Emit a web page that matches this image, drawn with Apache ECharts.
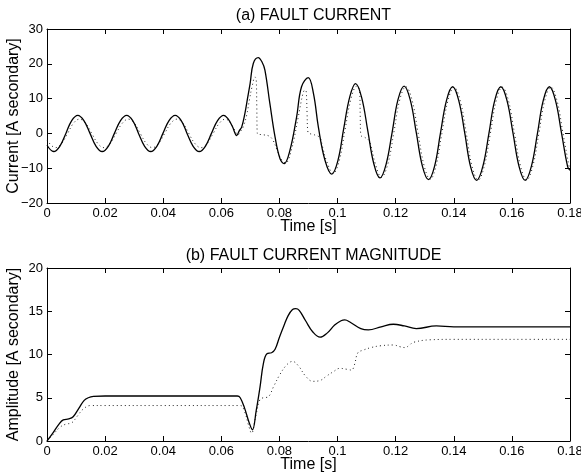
<!DOCTYPE html>
<html>
<head>
<meta charset="utf-8">
<script src="https://cdn.jsdelivr.net/npm/echarts@6/dist/echarts.min.js"></script>
<style>
html,body{margin:0;padding:0;background:#fff;}
#chart{width:581px;height:476px;}
</style>
</head>
<body>
<div id="chart"></div>
<script>
// ---- Data ----
// x tick labels (s)
const timeTicks = [0, 0.02, 0.04, 0.06, 0.08, 0.1, 0.12, 0.14, 0.16, 0.18];
const currentTicks = [-20, -10, 0, 10, 20, 30];
const amplitudeTicks = [0, 5, 10, 15, 20];

// (a) fault current, solid trace [time s, current A secondary]
const currentSolid = [
[0,-3.4],[0.0023,-5.2],[0.0044,-3.7],[0.0065,0],[0.0085,3.7],[0.0106,5.2],[0.0127,3.7],[0.0148,0],[0.0169,-3.7],[0.0190,-5.2],
[0.0211,-3.7],[0.0232,0],[0.0253,3.7],[0.0274,5.2],[0.0295,3.7],[0.0315,0],[0.0336,-3.7],[0.0357,-5.2],[0.0378,-3.7],[0.0399,0],
[0.0420,3.7],[0.0441,5.2],[0.0462,3.7],[0.0482,0],[0.0503,-3.7],[0.0524,-5.2],[0.0545,-3.7],[0.0566,0],[0.0587,3.7],[0.0608,5.2],
[0.0622,4.3],[0.0638,2.0],[0.0653,-0.6],[0.0662,0.8],[0.0670,1.8],[0.0681,5.7],[0.0690,10.0],[0.0699,14.3],[0.0710,20.1],[0.0727,21.8],
[0.0740,20.5],[0.0750,18.2],[0.0767,8.6],[0.0785,-1.1],[0.0802,-7.3],[0.0816,-8.7],[0.0836,-4.9],[0.0859,4.7],[0.0876,13.4],[0.0899,16.0],
[0.0917,11.5],[0.0934,1.8],[0.0957,-7.8],[0.0980,-11.7],[0.1001,-7.9],[0.1021,1.3],[0.1042,10.5],[0.1062,14.3],[0.1083,10.3],[0.1104,0.8],
[0.1125,-8.8],[0.1146,-12.8],[0.1167,-8.9],[0.1188,0.4],[0.1208,9.7],[0.1229,13.6],[0.1250,9.7],[0.1271,0.2],[0.1292,-9.4],[0.1313,-13.3],
[0.1334,-9.4],[0.1354,0],[0.1375,9.5],[0.1396,13.4],[0.1417,9.5],[0.1438,0],[0.1458,-9.6],[0.1479,-13.5],[0.1500,-9.5],[0.1521,0],
[0.1541,9.5],[0.1562,13.4],[0.1583,9.5],[0.1604,0],[0.1625,-9.6],[0.1646,-13.5],[0.1667,-9.5],[0.1688,0],[0.1708,9.5],[0.1729,13.4],
[0.1750,9.5],[0.1771,0],[0.1792,-9.6],[0.1800,-10.6]
];

// (a) fault current, dotted trace
const currentDotted = [
[0,-1.9],[0.0029,-4.1],[0.0050,-2.9],[0.0071,0],[0.0091,2.9],[0.0112,4.1],[0.0133,2.9],[0.0154,0],[0.0175,-2.9],[0.0196,-4.1],
[0.0217,-2.9],[0.0238,0],[0.0259,2.9],[0.0280,4.1],[0.0301,2.9],[0.0321,0],[0.0342,-2.9],[0.0363,-4.1],[0.0384,-2.9],[0.0405,0],
[0.0426,2.9],[0.0447,4.1],[0.0468,2.9],[0.0488,0],[0.0509,-2.9],[0.0530,-4.1],[0.0551,-2.9],[0.0572,0],[0.0593,2.9],[0.0614,4.1],
[0.0628,3.4],[0.0643,1.4],[0.0657,-0.4],[0.0668,0.8],[0.0676,2.0],[0.0687,5.2],[0.0697,9.8],[0.0706,13.5],[0.0716,16.2],[0.0720,15.6],
[0.0722,8.0],[0.0724,-0.1],[0.0745,-0.4],[0.0765,-0.8],[0.0778,-2.0],[0.0792,-4.8],[0.0806,-7.4],[0.0821,-8.5],[0.0841,-4.8],[0.0864,4.4],
[0.0881,11.5],[0.0888,12.5],[0.0892,12.1],[0.0895,6.0],[0.0898,0.4],[0.0920,-0.4],[0.0939,-1.2],[0.0948,-3.8],[0.0962,-7.9],[0.0985,-11.5],
[0.1006,-7.8],[0.1026,1.2],[0.1047,10.2],[0.1066,13.6],[0.1076,12.2],[0.1078,5.0],[0.1080,-0.5],[0.1095,-1.2],[0.1110,-2.3],[0.1130,-8.7],
[0.1151,-12.6],[0.1173,-8.8],[0.1194,0.4],[0.1214,9.6],[0.1235,13.4],[0.1256,9.7],[0.1277,0.2],[0.1298,-9.3],[0.1319,-13.2],[0.1339,-9.3],
[0.1359,0],[0.1380,9.4],[0.1401,13.3],[0.1422,9.5],[0.1443,0],[0.1463,-9.5],[0.1484,-13.4],[0.1505,-9.4],[0.1526,0],[0.1546,9.4],
[0.1567,13.3],[0.1588,9.5],[0.1609,0],[0.1630,-9.5],[0.1651,-13.4],[0.1672,-9.4],[0.1693,0],[0.1713,9.4],[0.1734,13.3],[0.1755,9.5],
[0.1776,0],[0.1797,-9.5],[0.1800,-10.0]
];

// (b) fault current magnitude, solid trace
const magnitudeSolid = [
[0,0],[0.002,0.9],[0.004,1.9],[0.0056,2.45],[0.0075,2.55],[0.009,2.8],[0.011,3.8],[0.0128,4.7],[0.0142,5.0],[0.016,5.15],
[0.02,5.2],[0.04,5.2],[0.0655,5.2],[0.0665,5.0],[0.068,3.8],[0.0695,2.2],[0.0707,1.3],[0.072,3.5],[0.0733,6.2],[0.0745,9.0],
[0.0757,10.1],[0.0773,10.2],[0.0785,10.6],[0.080,12.0],[0.0815,13.3],[0.083,14.5],[0.0845,15.2],[0.0856,15.3],[0.0868,15.1],[0.089,13.9],
[0.0915,12.6],[0.094,12.0],[0.0965,12.5],[0.099,13.4],[0.1012,13.9],[0.1025,14.0],[0.1045,13.7],[0.108,13.0],[0.1106,12.85],[0.115,13.2],
[0.1192,13.5],[0.123,13.3],[0.1271,13.0],[0.134,13.3],[0.14,13.2],[0.15,13.2],[0.16,13.2],[0.18,13.2]
];

// (b) fault current magnitude, dotted trace
const magnitudeDotted = [
[0,0],[0.002,0.7],[0.0045,1.6],[0.0065,1.95],[0.0085,2.1],[0.0105,2.9],[0.0125,3.7],[0.015,4.1],[0.02,4.1],[0.04,4.1],
[0.0665,4.1],[0.068,3.4],[0.0693,1.9],[0.0704,0.9],[0.0718,2.8],[0.0733,4.8],[0.0745,5.0],[0.0761,5.1],[0.078,6.3],[0.080,7.6],
[0.0825,8.8],[0.0845,9.2],[0.0865,8.7],[0.089,7.5],[0.0915,6.9],[0.094,7.0],[0.0962,7.5],[0.0985,8.0],[0.1008,8.4],[0.103,8.3],
[0.1048,8.2],[0.1058,8.8],[0.107,10.2],[0.1088,10.5],[0.1115,10.8],[0.1146,11.0],[0.1192,11.1],[0.1215,10.9],[0.1232,10.8],[0.1248,11.1],
[0.126,11.4],[0.1318,11.7],[0.14,11.75],[0.16,11.75],[0.18,11.75]
];

// ---- Chart ----
const FONT = "'Liberation Sans', Arial, Helvetica, sans-serif";
const chart = echarts.init(document.getElementById('chart'), null, {renderer: 'canvas'});

function fmtTime(v){ return String(Math.round(v*100)/100); }
function fmtNum(v){ const s = String(Math.round(v)); return s.replace('-', '\u2212'); }

function xAx(grid, pos, withLabels){
  return {
    type: 'value', gridIndex: grid, position: pos,
    min: timeTicks[0], max: timeTicks[timeTicks.length-1], interval: 0.02,
    axisLine: {show: true, onZero: false, lineStyle: {color: '#000', width: 1}},
    axisTick: {show: true, inside: true, length: 5, lineStyle: {color: '#000'}},
    axisLabel: {show: withLabels, color: '#000', fontSize: 13, fontFamily: FONT, margin: 4, formatter: fmtTime, showMinLabel: true, showMaxLabel: true},
    splitLine: {show: false},
    name: withLabels ? 'Time [s]' : '',
    nameLocation: 'middle', nameGap: 16, nameMoveOverlap: false,
    nameTextStyle: {color: '#000', fontSize: 16, fontFamily: FONT}
  };
}
function yAx(grid, pos, ticks, withLabels, name){
  return {
    type: 'value', gridIndex: grid, position: pos,
    min: ticks[0], max: ticks[ticks.length-1], interval: ticks[1]-ticks[0],
    axisLine: {show: true, onZero: false, lineStyle: {color: '#000', width: 1}},
    axisTick: {show: true, inside: true, length: 5, lineStyle: {color: '#000'}},
    axisLabel: {show: withLabels, color: '#000', fontSize: 13, fontFamily: FONT, margin: 4, formatter: fmtNum, showMinLabel: true, showMaxLabel: true},
    splitLine: {show: false},
    name: withLabels ? name : '',
    nameLocation: 'middle', nameGap: 25, nameMoveOverlap: false,
    nameTextStyle: {color: '#000', fontSize: 16, fontFamily: FONT}
  };
}

const solidStyle = {color: '#000', width: 1.3, type: 'solid'};
const dottedStyle = {color: '#222', width: 1, type: [1, 3]};

chart.setOption({
  animation: false,
  backgroundColor: '#fff',
  title: [
    {text: '(a) FAULT CURRENT', left: 308.5, top: 3, textAlign: 'center',
     textStyle: {color: '#000', fontSize: 16, fontWeight: 'normal', fontFamily: FONT}},
    {text: '(b) FAULT CURRENT MAGNITUDE', left: 308.5, top: 243, textAlign: 'center',
     textStyle: {color: '#000', fontSize: 16, fontWeight: 'normal', fontFamily: FONT}}
  ],
  grid: [
    {left: 47, top: 29, width: 523, height: 174, show: false, outerBoundsMode: 'none', containLabel: false},
    {left: 47, top: 268, width: 523, height: 173, show: false, outerBoundsMode: 'none', containLabel: false}
  ],
  xAxis: [xAx(0, 'bottom', true), xAx(0, 'top', false), xAx(1, 'bottom', true), xAx(1, 'top', false)],
  yAxis: [
    yAx(0, 'left', currentTicks, true, 'Current [A secondary]'), yAx(0, 'right', currentTicks, false, ''),
    yAx(1, 'left', amplitudeTicks, true, 'Amplitude [A secondary]'), yAx(1, 'right', amplitudeTicks, false, '')
  ],
  series: [
    {type: 'line', xAxisIndex: 0, yAxisIndex: 0, data: currentDotted, showSymbol: false, smooth: 0.4, lineStyle: dottedStyle, z: 2},
    {type: 'line', xAxisIndex: 0, yAxisIndex: 0, data: currentSolid, showSymbol: false, smooth: 0.4, lineStyle: solidStyle, z: 3},
    {type: 'line', xAxisIndex: 2, yAxisIndex: 2, data: magnitudeDotted, showSymbol: false, smooth: 0.4, lineStyle: dottedStyle, z: 2},
    {type: 'line', xAxisIndex: 2, yAxisIndex: 2, data: magnitudeSolid, showSymbol: false, smooth: 0.4, lineStyle: solidStyle, z: 3}
  ]
});
</script>
</body>
</html>
